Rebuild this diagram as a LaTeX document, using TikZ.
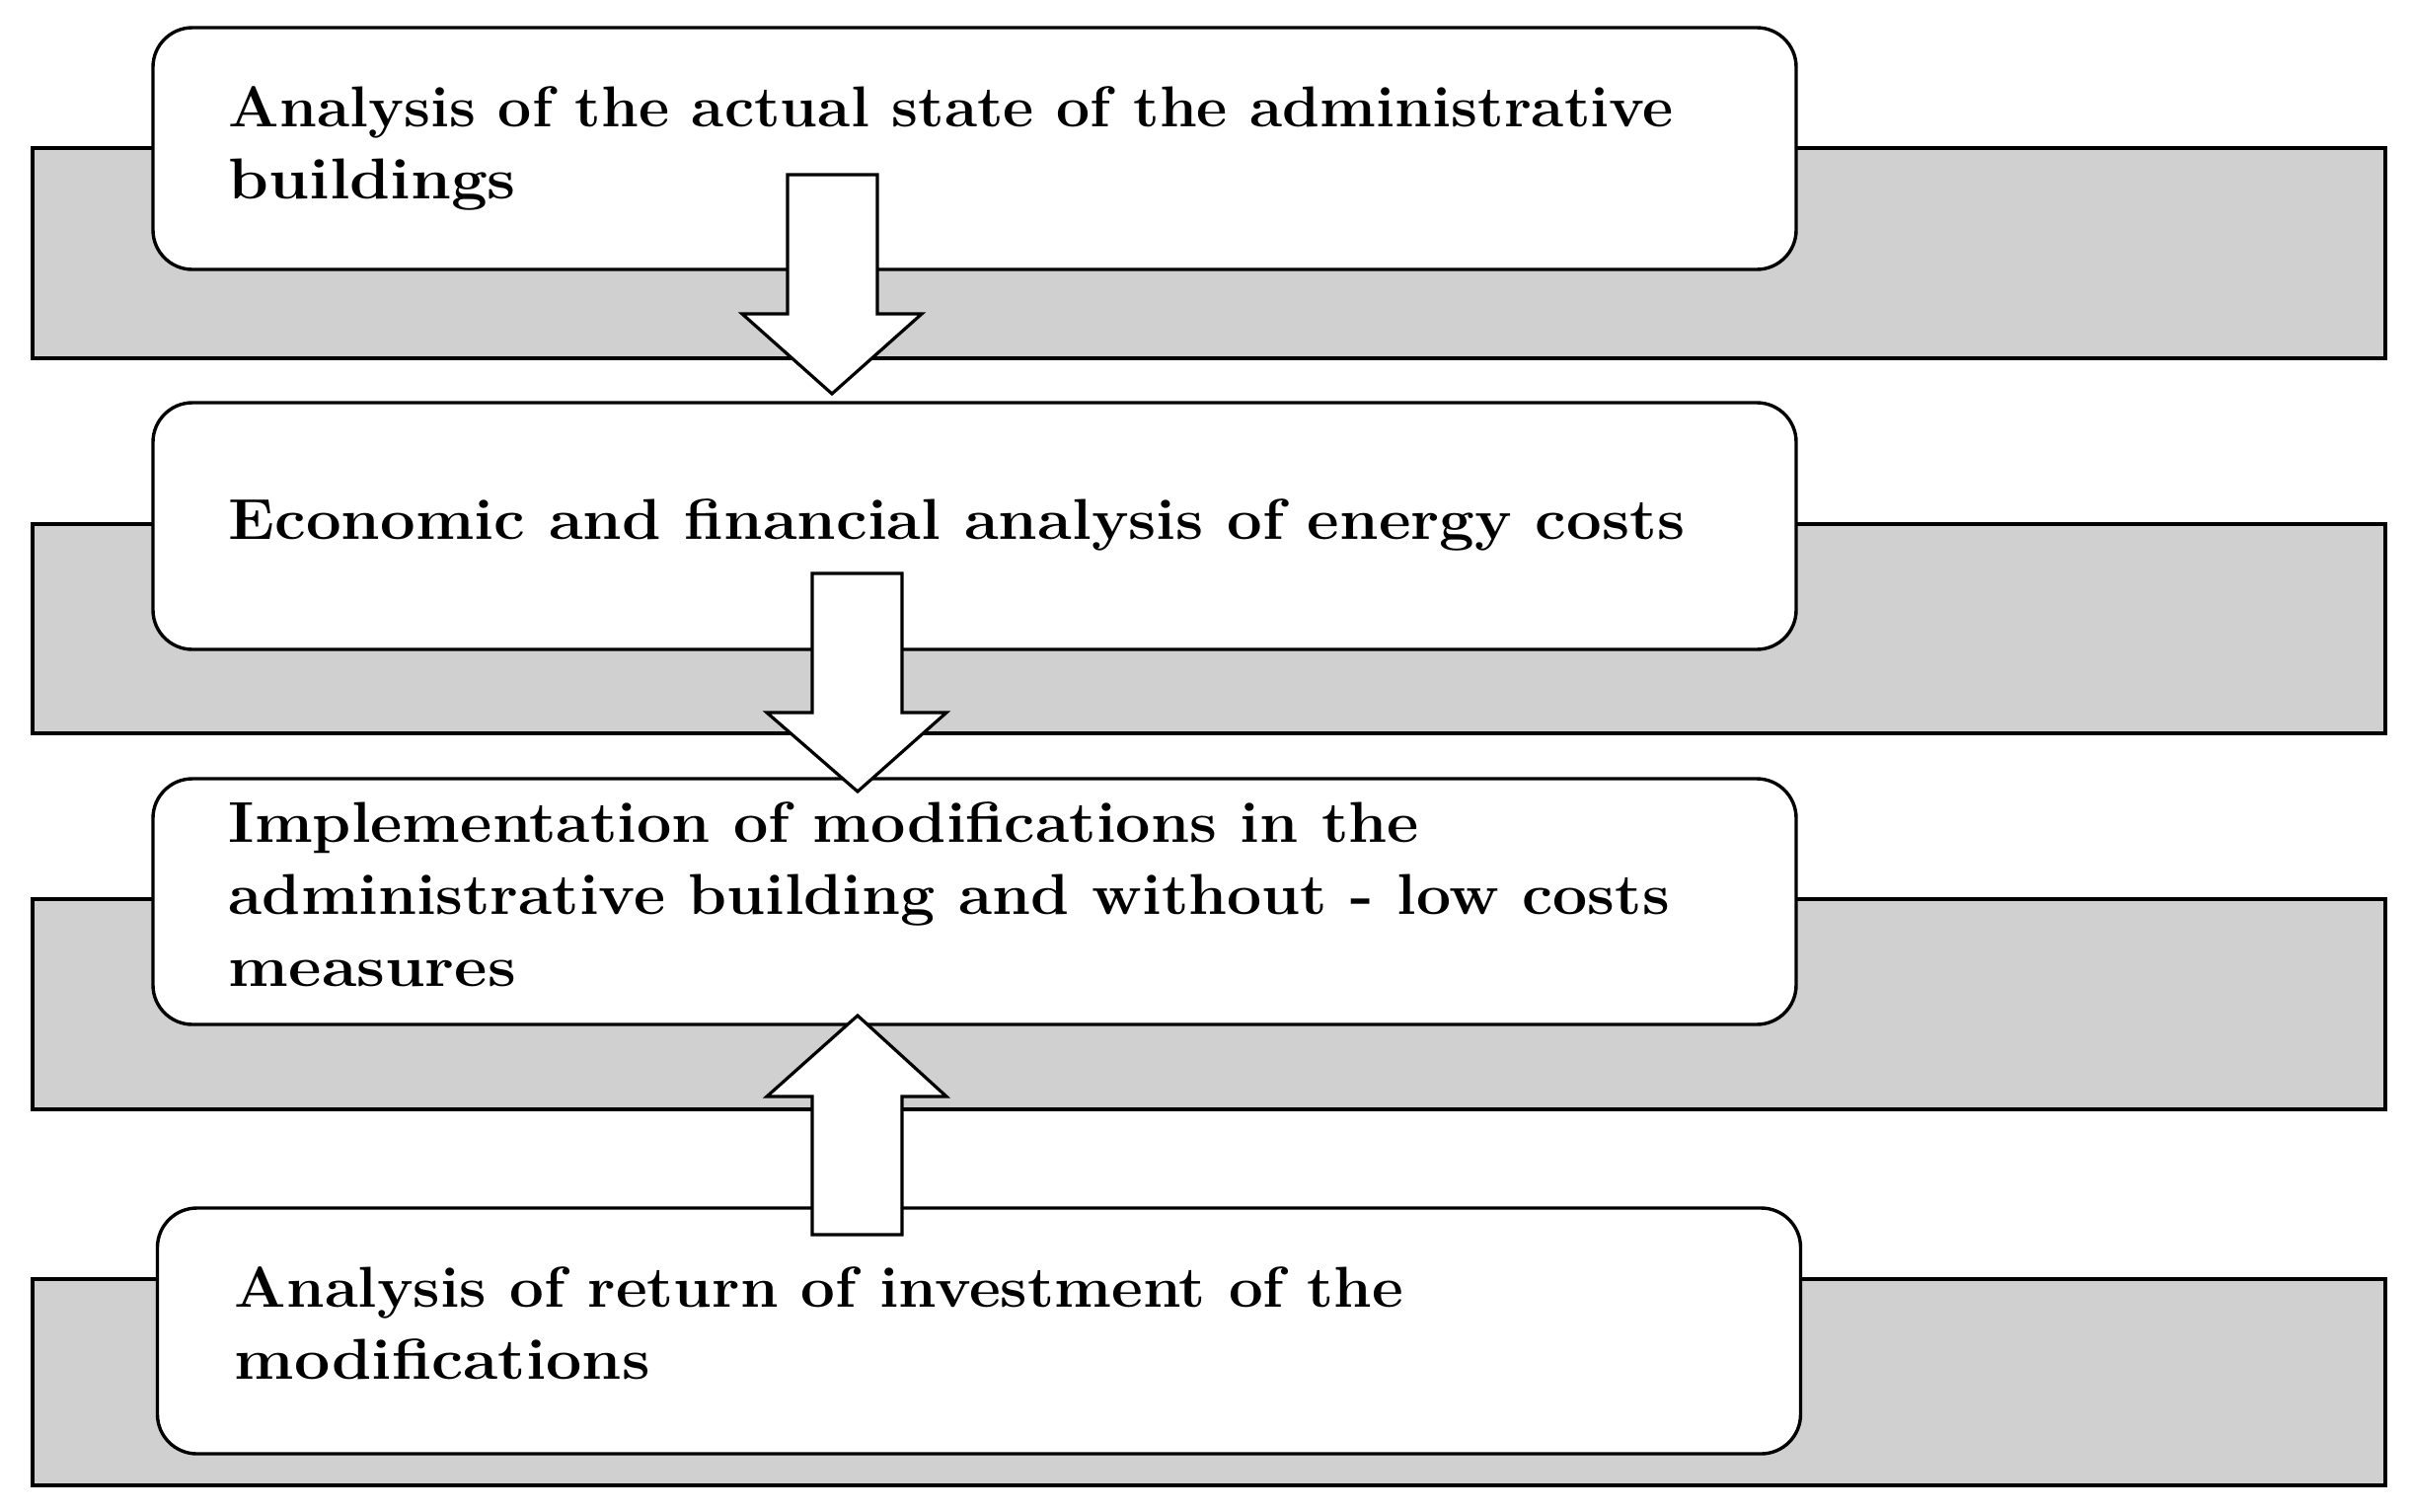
\documentclass[tikz,border=0pt]{standalone}
\usepackage{tikz}
\usepackage{graphicx}
\definecolor{bandgray}{RGB}{208,208,208}
\newcommand\fitln[2]{\hbox{\resizebox{#1}{\height}{#2}}}
\begin{document}
\begin{tikzpicture}[x=0.25pt,y=-0.25pt,
  band/.style={draw=black, fill=bandgray, line width=0.85pt},
  stepbox/.style={draw=black, fill=white, rounded corners=10pt, line width=0.85pt, inner sep=0pt, minimum width=416.25pt},
  blockarrow/.style={draw=black, fill=white, line width=0.8pt, line join=miter},
  lbl/.style={anchor=base west, inner sep=0pt, font=\fontsize{14.6}{18.25}\selectfont\bfseries}]
\useasboundingbox (0,0) rectangle (2443,1532);
% grey bands
\path[band] (33,150) rectangle (2417,363);
\path[band] (33,531) rectangle (2417,743);
\path[band] (33,911) rectangle (2417,1124);
\path[band] (33,1296) rectangle (2417,1505);
% white rounded boxes
\node[stepbox, minimum height=61.25pt] (b1) at (987.5,150.5) {};
\node[stepbox, minimum height=62.5pt] (b2) at (987.5,533) {};
\node[stepbox, minimum height=62.25pt] (b3) at (987.5,913.5) {};
\node[stepbox, minimum height=62.25pt] (b4) at (992,1348.5) {};
% texts
\node[lbl] (t1) at (231,128) {\vtop{\fitln{366pt}{Analysis of the actual state of the administrative}\fitln{72.8pt}{buildings}}};
\node[lbl] (t2) at (231,546) {\fitln{368.9pt}{Economic and financial analysis of energy costs}};
\node[lbl] (t3) at (231,853) {\vtop{\fitln{301.5pt}{Implementation of modifications in the}\fitln{365pt}{administrative building and without - low costs}\fitln{72.8pt}{measures}}};
\node[lbl] (t4) at (237,1324) {\vtop{\fitln{296pt}{Analysis of return of investment of the}\fitln{105.2pt}{modifications}}};
% block arrows
\draw[blockarrow] (798,177) -- (889,177) -- (889,318) -- (934,318) -- (843,399) -- (752,318) -- (798,318) -- cycle;
\draw[blockarrow] (823,581) -- (914,581) -- (914,722) -- (959,722) -- (869,802) -- (777,722) -- (823,722) -- cycle;
\draw[blockarrow] (823,1251) -- (914,1251) -- (914,1111) -- (959,1111) -- (869,1029) -- (777,1111) -- (823,1111) -- cycle;
\end{tikzpicture}
\end{document}
